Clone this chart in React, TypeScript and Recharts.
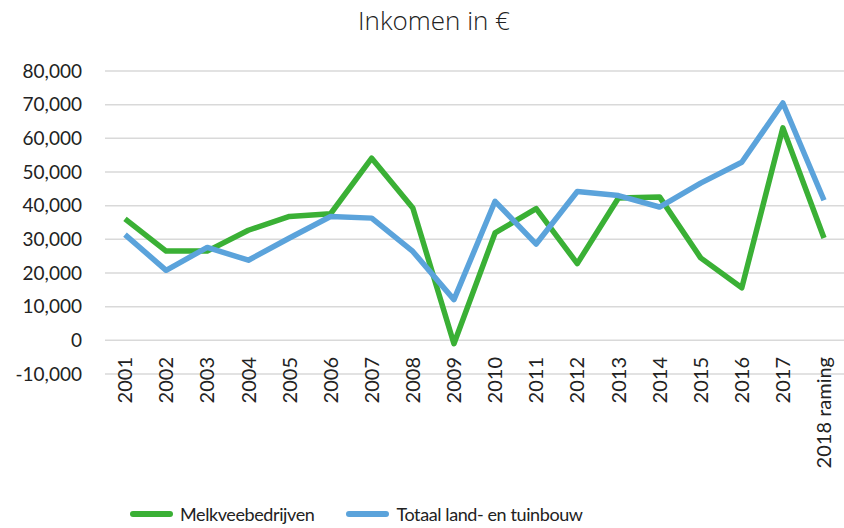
import React from 'react';
import { LineChart, Line, XAxis, YAxis, CartesianGrid, Legend } from 'recharts';

const years = ['2001', '2002', '2003', '2004', '2005', '2006', '2007', '2008', '2009', '2010', '2011', '2012', '2013', '2014', '2015', '2016', '2017', '2018 raming'];
const melkvee = [36100, 26500, 26500, 32700, 36800, 37600, 54100, 39300, -1000, 31900, 39100, 22800, 42300, 42600, 24500, 15600, 63100, 30400];
const totaal = [31400, 20800, 27600, 23800, 30400, 36800, 36300, 26400, 12100, 41300, 28600, 44200, 43000, 39600, 46700, 52900, 70500, 41600];
const yTicks = [-10000, 0, 10000, 20000, 30000, 40000, 50000, 60000, 70000, 80000];

const data = years.map((year, i) => ({ year, melkvee: melkvee[i], totaal: totaal[i] }));

const FONT = 'Lato, "Open Sans", sans-serif';
const GREEN = '#3AB035';
const BLUE = '#5BA3DB';

// rotated labels, top end sits just below the 0 line (like excel)
const XTick = ({ x, y, payload }: any) => (
    <g transform={`translate(${x},${y})`}>
        <text transform="rotate(-90)" x={17} dy="0.36em" textAnchor="end" fontSize={20} fill="#222" fontFamily={FONT}>
            {payload.value}
        </text>
    </g>
);

const LegendContent = ({ payload }: any) => (
    <div style={{ display: 'flex', alignItems: 'center', paddingLeft: 130, height: 28, fontFamily: FONT, fontSize: 18, letterSpacing: -0.4, color: '#222' }}>
        {(payload || []).map((entry: any) => (
            <div key={entry.value} style={{ display: 'flex', alignItems: 'center', marginRight: 32 }}>
                <div style={{ width: 43, height: 6, borderRadius: 3, background: entry.color, marginRight: 7 }} />
                <span>{entry.value}</span>
            </div>
        ))}
    </div>
);

const fmt = (v: number) => v.toLocaleString('en-US');

const App: React.FC = () => {
    return (
        <div style={{ position: 'relative', width: 844, height: 528, background: '#fff', overflow: 'hidden' }}>
            <style>{'html, body { margin: 0; padding: 0; overflow: hidden; }'}</style>
            <div style={{ position: 'absolute', top: 2, left: 0, width: 844, paddingLeft: 24, boxSizing: 'border-box', textAlign: 'center', fontSize: 26, fontWeight: 300, color: '#222', fontFamily: '"Open Sans", sans-serif' }}>
                Inkomen in €
            </div>
            <LineChart width={844} height={528} data={data} margin={{ top: 71, right: 0, left: 0, bottom: 0 }}>
                <CartesianGrid vertical={false} stroke="#D9D9D9" strokeWidth={1.5} />
                <XAxis
                    dataKey="year"
                    axisLine={false}
                    tickLine={false}
                    tickSize={0}
                    tickMargin={0}
                    height={126}
                    interval={0}
                    padding={{ left: 20, right: 20 }}
                    tick={<XTick />}
                />
                <YAxis
                    width={105}
                    domain={[-10000, 80000]}
                    ticks={yTicks}
                    tickFormatter={fmt}
                    axisLine={false}
                    tickLine={false}
                    tickSize={0}
                    tickMargin={23}
                    tick={{ fontSize: 19, fill: '#222', fontFamily: FONT }}
                />
                <Legend verticalAlign="bottom" height={28} content={<LegendContent />} />
                <Line
                    type="linear"
                    dataKey="melkvee"
                    name="Melkveebedrijven"
                    stroke={GREEN}
                    strokeWidth={5.5}
                    strokeLinejoin="round"
                    dot={false}
                    isAnimationActive={false}
                />
                <Line
                    type="linear"
                    dataKey="totaal"
                    name="Totaal land- en tuinbouw"
                    stroke={BLUE}
                    strokeWidth={5.5}
                    strokeLinejoin="round"
                    dot={false}
                    isAnimationActive={false}
                />
            </LineChart>
        </div>
    );
};

export default App;
